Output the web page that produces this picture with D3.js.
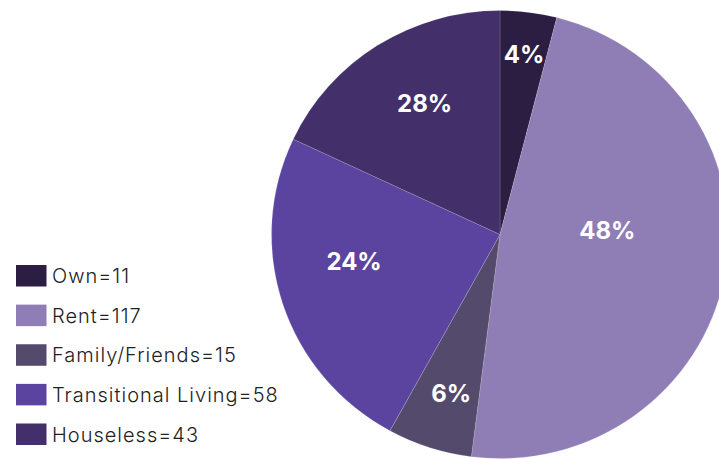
<!DOCTYPE html>
<meta charset="utf-8">
<style>
body { margin: 0; background: #fff; }
svg { display: block; }
.legend text { font-family: Inter, "Open Sans", sans-serif; font-size: 20px; font-weight: 300; letter-spacing: 1px; fill: #222; }
.slice-label { font-family: Inter, "Open Sans", sans-serif; font-size: 24px; font-weight: 700; fill: #fff; }
</style>
<body>
<script src="https://d3js.org/d3.v7.min.js"></script>
<script>

// data
var categories = ["Own", "Rent", "Family/Friends", "Transitional Living", "Houseless"];
var counts = [11, 117, 15, 58, 43];
// slice sizes as drawn (percent of the pie)
var shares = [4, 48, 6, 24, 18];
// labels exactly as printed on the chart
var sliceLabels = ["4%", "48%", "6%", "24%", "28%"];
var colors = ["#2c1d42", "#8f7db5", "#544a6c", "#5b44a0", "#432f6a"];

// label placement: fraction of radius, angle shift in degrees
var labelLayout = [
  {r: 0.81, da: 0.3},
  {r: 0.47, da: -13.2},
  {r: 0.74, da: -1.2},
  {r: 0.65, da: 7.3},
  {r: 0.67, da: 2.9}
];

var width = 719, height = 459;
var cx = 500, cy = 234.5, radius = 224;

var svg = d3.select("body")
  .append("svg")
    .attr("width", width)
    .attr("height", height);

var pie = d3.pie()
    .sort(null)
    .value(function(d) { return d; });

var arcs = pie(shares);

var arc = d3.arc()
    .innerRadius(0)
    .outerRadius(radius);

// pie is a touch wider than tall in the original
var g = svg.append("g")
    .attr("transform", "translate(" + cx + "," + cy + ") scale(1.02,1)");

g.selectAll("path")
  .data(arcs)
  .enter().append("path")
    .attr("d", arc)
    .attr("fill", function(d, i) { return colors[i]; })
    .attr("stroke", "rgba(255,255,255,0.3)")
    .attr("stroke-width", 0.5);

svg.append("g")
    .attr("transform", "translate(" + cx + "," + cy + ")")
  .selectAll("text")
  .data(arcs)
  .enter().append("text")
    .attr("class", "slice-label")
    .attr("text-anchor", "middle")
    .attr("dominant-baseline", "central")
    .attr("x", function(d, i) {
      var a = (d.startAngle + d.endAngle) / 2 + labelLayout[i].da * Math.PI / 180;
      return Math.sin(a) * radius * labelLayout[i].r * 1.02;
    })
    .attr("y", function(d, i) {
      var a = (d.startAngle + d.endAngle) / 2 + labelLayout[i].da * Math.PI / 180;
      return -Math.cos(a) * radius * labelLayout[i].r;
    })
    .text(function(d, i) { return sliceLabels[i]; });

// legend
var legendY = d3.scaleLinear()
    .domain([0, categories.length - 1])
    .range([265, 423.5]);

var legend = svg.append("g")
    .attr("class", "legend")
  .selectAll("g")
  .data(categories)
  .enter().append("g")
    .attr("transform", function(d, i) { return "translate(16," + legendY(i) + ")"; });

legend.append("rect")
    .attr("width", 30.5)
    .attr("height", 21.5)
    .attr("fill", function(d, i) { return colors[i]; });

legend.append("text")
    .attr("x", 36)
    .attr("y", 11)
    .attr("dominant-baseline", "central")
    .text(function(d, i) { return d + "=" + counts[i]; });

</script>
</body>
</html>
